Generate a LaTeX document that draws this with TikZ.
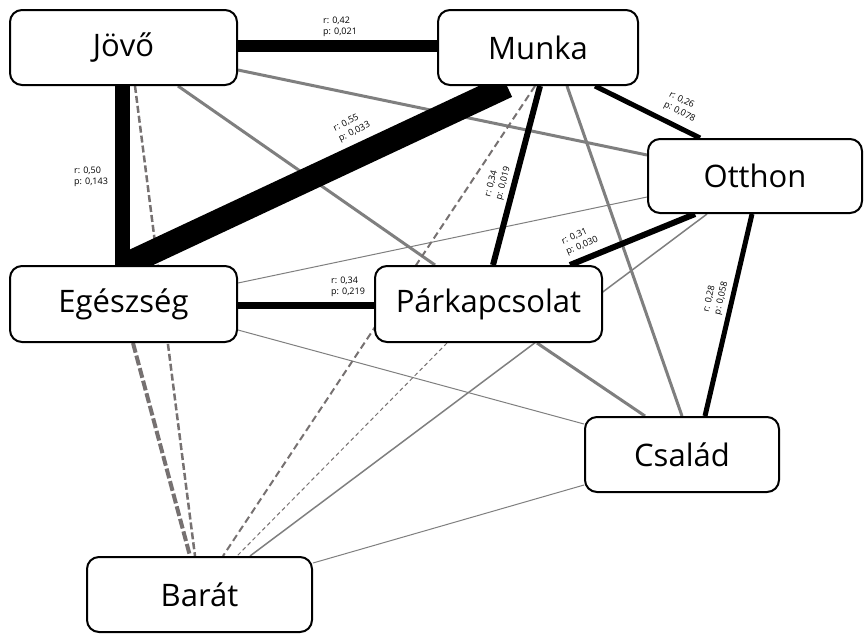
\documentclass[tikz,border=0pt]{standalone}
\usepackage{fontspec}
\setmainfont{Open Sans}
\usetikzlibrary{backgrounds}
\definecolor{linkgray}{HTML}{7F7F7F}
\definecolor{dashgray}{HTML}{767171}
\begin{document}
\begin{tikzpicture}[x=1pt,y=-1pt,
  topic/.style={draw=black,line width=2pt,rounded corners=12pt,fill=white,
    inner sep=0pt,font=\fontsize{31}{36}\selectfont},
  stat/.style={inner sep=0pt,align=left,font=\fontsize{9}{11.5}\selectfont},
  strong/.style={draw=black,line cap=butt},
  weak/.style={draw=linkgray},
  neg/.style={draw=dashgray}]
\useasboundingbox (0,0) rectangle (864,633);

% topic boxes
\node[topic,minimum width=227pt,minimum height=75pt] (jo) at (123.5,47.5) {Jövő};
\node[topic,minimum width=200pt,minimum height=75pt] (mu) at (538,47.5) {Munka};
\node[topic,minimum width=214pt,minimum height=74pt] (ot) at (755,176) {Otthon};
\node[topic,minimum width=227pt,minimum height=76pt] (eg) at (123.5,304) {Egészség};
\node[topic,minimum width=227pt,minimum height=76pt] (pa) at (488.5,304) {Párkapcsolat};
\node[topic,minimum width=194pt,minimum height=75pt] (cs) at (682,454.5) {Család};
\node[topic,minimum width=225pt,minimum height=75pt] (ba) at (199.5,594.5) {Barát};

\begin{pgfonlayer}{background}
% weak links
\draw[weak,line width=3pt] ([yshift=-22.5pt]jo.east) -- ([yshift=21pt]ot.west);
\draw[weak,line width=3pt] ([xshift=54.5pt]jo.south) -- ([xshift=-53.5pt]pa.north);
\draw[weak,line width=3pt] ([xshift=29pt]mu.south) -- (cs.north);
\draw[weak,line width=3pt] ([xshift=48.5pt]pa.south) -- ([xshift=-37pt]cs.north);
\draw[weak,line width=1pt] ([yshift=-26pt]eg.east) -- ([yshift=30.5pt]cs.west);
\draw[weak,line width=1pt] ([yshift=21pt]eg.east) -- ([yshift=-21pt]ot.west);
\draw[weak,line width=1.5pt] ([xshift=-48pt]ot.south) -- ([xshift=50.5pt]ba.north);
\draw[weak,line width=1pt] ([yshift=31.5pt]ba.east) -- ([yshift=-30.5pt]cs.west);
% negative links
\draw[neg,line width=4pt,dash pattern=on 10pt off 3pt] ([xshift=9.5pt]eg.south) -- ([xshift=-9.5pt]ba.north);
\draw[neg,line width=2.5pt,dash pattern=on 7pt off 3pt] ([xshift=11.5pt]jo.south) -- ([xshift=-4.5pt]ba.north);
\draw[neg,line width=2pt,dash pattern=on 7pt off 4pt] ([xshift=-3pt]mu.south) -- ([xshift=23.5pt]ba.north);
\draw[neg,line width=1pt,dash pattern=on 4pt off 3pt] ([xshift=-41.5pt]pa.south) -- ([xshift=37.5pt]ba.north);
% strong links
\draw[strong,line width=12pt] ([yshift=1.5pt]jo.east) -- ([yshift=1.5pt]mu.west);
\draw[strong,line width=15pt] ([xshift=-1.5pt]jo.south) -- ([xshift=-1.5pt]eg.north);
\draw[strong,line width=24pt] ([xshift=-31pt]mu.south) -- ([xshift=1.5pt]eg.north);
\draw[strong,line width=6pt] ([xshift=2pt]mu.south) -- ([xshift=4.5pt]pa.north);
\draw[strong,line width=5pt] ([xshift=57pt]mu.south) -- ([xshift=-55pt]ot.north);
\draw[strong,line width=6pt] ([xshift=-60pt]ot.south) -- ([xshift=81.5pt]pa.north);
\draw[strong,line width=5pt] ([xshift=-3pt]ot.south) -- ([xshift=23pt]cs.north);
\draw[strong,line width=7pt] ([yshift=-1pt]eg.east) -- ([yshift=-1pt]pa.west);
\end{pgfonlayer}

% correlation labels
\node[stat] (l1) at (340,27) {r: 0,42\\p: 0,021};
\node[stat] (l2) at (91,177) {r: 0,50\\p: 0,143};
\node[stat,rotate=26] (l3) at (352,127) {r: 0,55\\p: 0,033};
\node[stat,rotate=75] (l4) at (498,182) {r: 0,34\\p: 0,019};
\node[stat,rotate=-27] (l5) at (682,107) {r: 0,26\\p: 0,078};
\node[stat,rotate=23] (l6) at (580,241) {r: 0,31\\p: 0,030};
\node[stat,rotate=77] (l7) at (716,297) {r: 0,28\\p: 0,058};
\node[stat] (l8) at (348,287) {r: 0,34\\p: 0,219};
\end{tikzpicture}
\end{document}
